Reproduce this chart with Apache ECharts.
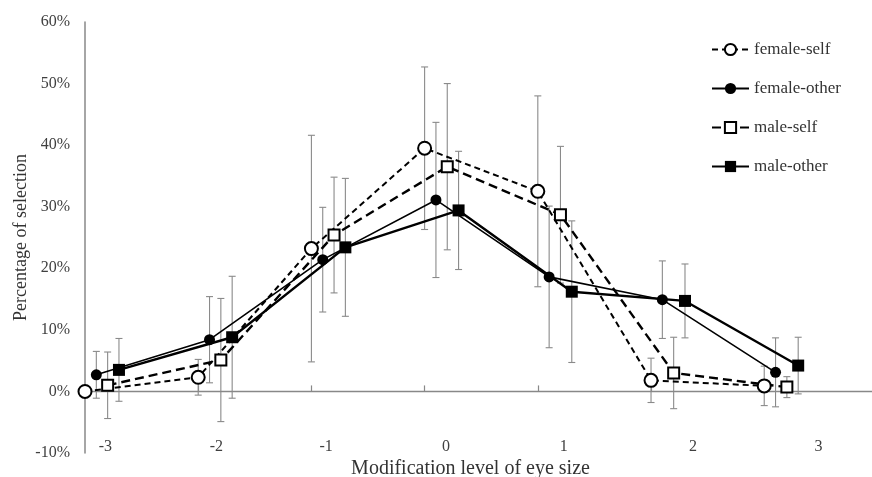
<!DOCTYPE html>
<html>
<head>
<meta charset="utf-8">
<script src="https://cdn.jsdelivr.net/npm/echarts@6/dist/echarts.min.js"></script>
<style>
  html, body { margin: 0; padding: 0; background: #fff; }
  #chart { width: 872px; height: 477px; }
</style>
</head>
<body>
<div id="chart"></div>
<script>
// modification levels (one group each)
const levels = [-3, -2, -1, 0, 1, 2, 3];
const levelLabels = ["-3", "-2", "-1", "0", "1", "2", "3"];

// percentage of selection (%)
const femaleSelf = [0, 2.3, 23.2, 39.5, 32.5, 1.8, 0.9];
const femaleOther = [2.7, 8.4, 21.4, 31.1, 18.6, 14.9, 3.1];
const maleSelf = [1.0, 5.1, 25.4, 36.5, 28.7, 3.0, 0.7];
const maleOther = [3.5, 8.8, 23.4, 29.4, 16.2, 14.7, 4.2];

// error bar half widths (%)
const femaleSelfErr = [0, 2.9, 18.4, 13.2, 15.5, 3.6, 3.2];
const femaleOtherErr = [3.8, 7.0, 8.5, 12.6, 11.5, 6.3, 5.6];
const maleSelfErr = [5.4, 10.0, 9.4, 13.5, 11.1, 5.8, 1.7];
const maleOtherErr = [5.1, 9.9, 11.2, 9.6, 11.5, 6.0, 4.6];

// layout: where each series sits inside its group, and where the group labels sit
const groupStart = -0.5;
const seriesShift = [0, 0.1, 0.2, 0.3];
const labelShift = [0.18, 0.16, 0.13, 0.19, 0.23, 0.37, 0.48];
const labelPos = levels.map((l, i) => l + groupStart + labelShift[i]);

const font = "'Liberation Serif', 'Times New Roman', serif";

function pts(vals, k) {
  return vals.map((v, i) => [levels[i] + groupStart + seriesShift[k], v]);
}
function bars(vals, errs, k) {
  return vals.map((v, i) => [levels[i] + groupStart + seriesShift[k], v - errs[i], v + errs[i]]);
}

function errorBar(params, api) {
  const x = api.value(0);
  const lo = api.coord([x, api.value(1)]);
  const hi = api.coord([x, api.value(2)]);
  if (api.value(2) - api.value(1) <= 0) return null;
  const w = 3.5;
  const style = { stroke: "#8a8a8a", lineWidth: 1.1 };
  return {
    type: "group",
    children: [
      { type: "line", shape: { x1: hi[0], y1: hi[1], x2: lo[0], y2: lo[1] }, style },
      { type: "line", shape: { x1: hi[0] - w, y1: hi[1], x2: hi[0] + w, y2: hi[1] }, style },
      { type: "line", shape: { x1: lo[0] - w, y1: lo[1], x2: lo[0] + w, y2: lo[1] }, style }
    ]
  };
}

const chart = echarts.init(document.getElementById("chart"));

const option = {
  animation: false,
  backgroundColor: "#fff",
  grid: { left: 85, right: 0, top: 22, bottom: 24, outerBoundsMode: "none", containLabel: false },
  legend: {
    orient: "vertical",
    left: 711,
    top: 41,
    itemWidth: 37,
    itemHeight: 14,
    itemGap: 22,
    padding: 0,
    textStyle: { fontFamily: font, fontSize: 17, color: "#333" },
    data: ["female-self", "female-other", "male-self", "male-other"]
  },
  xAxis: [
    {
      type: "value",
      position: "bottom",
      min: -3.5,
      max: 3.452,
      axisLine: { onZero: true, lineStyle: { color: "#888", width: 1.3 } },
      axisTick: {
        show: true,
        inside: true,
        length: 6,
        customValues: [-2.5, -1.5, -0.5, 0.5, 1.5, 2.5],
        lineStyle: { color: "#888", width: 1.2 }
      },
      axisLabel: { show: false },
      splitLine: { show: false }
    },
    {
      type: "value",
      position: "bottom",
      offset: -20,
      min: -3.5,
      max: 3.452,
      axisLine: { show: false, onZero: false },
      axisTick: { show: false },
      splitLine: { show: false },
      axisLabel: {
        margin: 6,
        customValues: labelPos,
        formatter: (v) => levelLabels[labelPos.indexOf(v)],
        fontFamily: font,
        fontSize: 16,
        color: "#404040"
      },
      name: "Modification level of eye size",
      nameLocation: "middle",
      nameGap: 26,
      nameMoveOverlap: false,
      nameTextStyle: { fontFamily: font, fontSize: 20, color: "#333", padding: [0, 16, 0, 0] }
    }
  ],
  yAxis: {
    type: "value",
    min: -10,
    max: 60,
    interval: 10,
    axisLine: { show: true, onZero: false, lineStyle: { color: "#888", width: 1.5 } },
    axisTick: { show: false },
    splitLine: { show: false },
    axisLabel: {
      formatter: "{value}%",
      margin: 15,
      fontFamily: font,
      fontSize: 16,
      color: "#404040"
    },
    name: "Percentage of selection",
    nameLocation: "middle",
    nameGap: 55,
    nameMoveOverlap: false,
    nameTextStyle: { fontFamily: font, fontSize: 18, color: "#333" }
  },
  series: [
    { type: "custom", xAxisIndex: 0, renderItem: errorBar, data: bars(femaleSelf, femaleSelfErr, 0), z: 1, silent: true },
    { type: "custom", xAxisIndex: 0, renderItem: errorBar, data: bars(femaleOther, femaleOtherErr, 1), z: 1, silent: true },
    { type: "custom", xAxisIndex: 0, renderItem: errorBar, data: bars(maleSelf, maleSelfErr, 2), z: 1, silent: true },
    { type: "custom", xAxisIndex: 0, renderItem: errorBar, data: bars(maleOther, maleOtherErr, 3), z: 1, silent: true },
    {
      name: "female-self",
      type: "line",
      data: pts(femaleSelf, 0),
      symbol: "circle",
      symbolSize: 13,
      lineStyle: { color: "#000", width: 2, type: [6, 4] },
      itemStyle: { color: "#fff", borderColor: "#000", borderWidth: 2 },
      z: 3
    },
    {
      name: "female-other",
      type: "line",
      data: pts(femaleOther, 1),
      symbol: "circle",
      symbolSize: 11,
      lineStyle: { color: "#000", width: 1.6 },
      itemStyle: { color: "#000" },
      z: 3
    },
    {
      name: "male-self",
      type: "line",
      data: pts(maleSelf, 2),
      symbol: "rect",
      symbolSize: 11,
      lineStyle: { color: "#000", width: 2.4, type: [9, 5] },
      itemStyle: { color: "#fff", borderColor: "#000", borderWidth: 2 },
      z: 3
    },
    {
      name: "male-other",
      type: "line",
      data: pts(maleOther, 3),
      symbol: "rect",
      symbolSize: 12,
      lineStyle: { color: "#000", width: 2.4 },
      itemStyle: { color: "#000" },
      z: 3
    }
  ]
};

chart.setOption(option);
</script>
</body>
</html>
